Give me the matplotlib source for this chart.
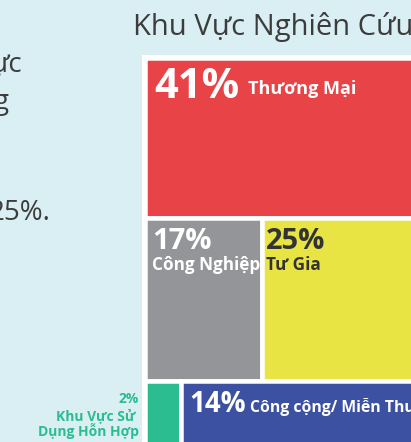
import matplotlib.pyplot as plt

plt.rcParams['font.family'] = ['Open Sans', 'DejaVu Sans']

# treemap rows, top to bottom (percent of study area)
row_values = [[41], [17, 25], [2, 14]]
row_names = [["Thương Mại"], ["Công Nghiệp", "Tư Gia"], ["Khu Vực Sử Dụng Hỗn Hợp", "Công cộng/ Miễn Thuế"]]
row_colors = [["#E84346"], ["#949599", "#E8E444"], ["#2BBC8F", "#3C51A2"]]
title = "Khu Vực Nghiên Cứu"
side_text = ["ực", "g", "25%."]  # line ends of the cropped paragraph on the left

BG = "#DAEFF3"
DARK = "#3C3C3C"
W, H = 411, 442

fig = plt.figure(figsize=(W / 100, H / 100), dpi=100)
fig.patch.set_facecolor(BG)

def fx(x):
    return x / W

def fy(y):
    return 1 - y / H

# treemap box in pixels; it runs off the right and bottom edges of the crop
tm_left, tm_top = 144.75, 57.75
px_x, px_y = 2.89, 3.9      # pixels per unit of width / height
pad = 2.75
total = sum(sum(r) for r in row_values)
ax_w = 100 * px_x + 2 * pad
ax_h = total * px_y + 2 * pad
ax = fig.add_axes([fx(tm_left - pad), fy(tm_top - pad + ax_h), ax_w / W, ax_h / H])
ax.set_xlim(-pad / px_x, 100 + pad / px_x)
ax.set_ylim(total + pad / px_y, -pad / px_y)
ax.set_facecolor("white")
ax.set_xticks([])
ax.set_yticks([])
for s in ax.spines.values():
    s.set_visible(False)

# slice-and-dice: row height ~ row sum, width ~ share within the row
corners = {}
y0 = 0
for vals, names, cols in zip(row_values, row_names, row_colors):
    h = sum(vals)
    x0 = 0
    for v, n, c in zip(vals, names, cols):
        w = v / h * 100
        ax.bar(x0, h, width=w, bottom=y0, align="edge", color=c,
               edgecolor="white", linewidth=3.24)
        corners[n] = (x0, y0)
        x0 += w
    y0 += h

def label(name, txt, dx, dy, size, color="white"):
    # dx, dy: pixel offset from the rect's top-left corner to the text baseline start
    ax.annotate(txt, corners[name], xytext=(dx * 0.72, -dy * 0.72),
                textcoords="offset points", ha="left", va="baseline",
                fontsize=size, fontweight="bold", color=color)

label("Thương Mại", f"{row_values[0][0]}%", 9.5, 40, 30)
label("Thương Mại", "Thương Mại", 103, 36.5, 13)
label("Công Nghiệp", f"{row_values[1][0]}%", 7, 31.5, 21)
label("Công Nghiệp", "Công Nghiệp", 7, 52.5, 12.3)
label("Tư Gia", f"{row_values[1][1]}%", 4.5, 31.5, 21, "#333333")
label("Tư Gia", "Tư Gia", 4.5, 52.5, 12.3, "#333333")
label("Công cộng/ Miễn Thuế", f"{row_values[2][1]}%", 8.5, 31, 20)
label("Công cộng/ Miễn Thuế", "Công cộng/ Miễn Thuế", 69.5, 31, 11.3)

# small green slice labelled outside, to its left
green = row_colors[2][0]
for t, yb in zip([f"{row_values[2][0]}%", "Khu Vực Sử ", "Dụng Hỗn Hợp"], [403, 420, 436]):
    fig.text(fx(139), fy(yb), t, ha="right", va="baseline", fontsize=10,
             fontweight="bold", color=green)

fig.text(fx(133), fy(35), title, ha="left", va="baseline", fontsize=21, color=DARK)

for t, xr, yb in zip(side_text, [22, 9, 50], [72, 109, 220]):
    fig.text(fx(xr), fy(yb), t, ha="right", va="baseline", fontsize=20, color=DARK)

fig.savefig("out.png", dpi=100, facecolor=BG)
